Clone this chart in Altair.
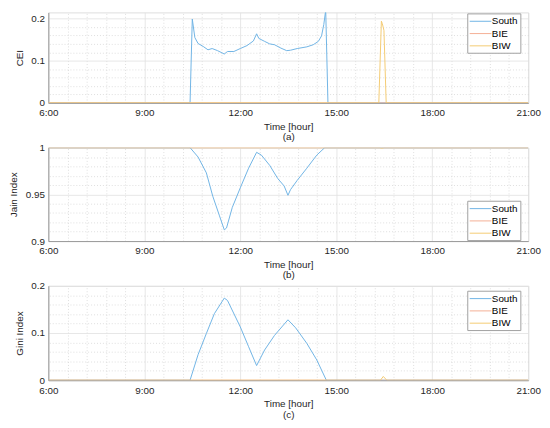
import altair as alt
import pandas as pd

series_names = ["South", "BIE", "BIW"]
series_colors = ["#6FB4E4", "#F4AE95", "#F4CB72"]

x_ticks = [6, 9, 12, 15, 18, 21]

# (a) CEI
cei_south_t = [6.0, 10.43, 10.50, 10.58, 10.68, 10.84, 10.99, 11.12, 11.29, 11.50, 11.60, 11.80,
               12.00, 12.21, 12.41, 12.51, 12.58, 12.76, 12.92, 13.07, 13.27, 13.45, 13.57, 13.78,
               14.08, 14.28, 14.44, 14.54, 14.61, 14.67, 14.74, 21.0]
cei_south_v = [0, 0, 0.199, 0.155, 0.141, 0.134, 0.126, 0.129, 0.124, 0.116, 0.122, 0.122,
               0.129, 0.136, 0.147, 0.164, 0.153, 0.146, 0.140, 0.138, 0.130, 0.124, 0.125, 0.129,
               0.133, 0.138, 0.146, 0.159, 0.186, 0.220, 0, 0]
cei_bie_t = [6.0, 16.35, 16.50, 21.0]
cei_bie_v = [0, 0, 0, 0]
cei_biw_t = [6.0, 16.33, 16.41, 16.44, 16.49, 16.56, 21.0]
cei_biw_v = [0, 0, 0.194, 0.188, 0.172, 0, 0]

# (b) Jain index
jain_south_t = [6.0, 10.43, 10.68, 10.94, 11.14, 11.35, 11.50, 11.57, 11.75, 12.00, 12.26, 12.51,
                12.66, 12.92, 13.17, 13.37, 13.49, 13.57, 13.78, 14.08, 14.39, 14.64, 21.0]
jain_south_v = [1, 1, 0.990, 0.973, 0.948, 0.927, 0.912, 0.914, 0.936, 0.957, 0.978, 0.995,
                0.992, 0.981, 0.967, 0.959, 0.949, 0.955, 0.965, 0.978, 0.992, 1.0, 1.0]
jain_bie_t = [6.0, 21.0]
jain_bie_v = [1, 1]
jain_biw_t = [6.0, 16.35, 16.42, 16.50, 21.0]
jain_biw_v = [1, 1, 0.9995, 1, 1]

# (c) Gini index
gini_south_t = [6.0, 10.43, 10.68, 10.94, 11.19, 11.50, 11.60, 12.00, 12.26, 12.51, 12.76, 13.07,
                13.49, 13.73, 14.08, 14.39, 14.69, 21.0]
gini_south_v = [0, 0, 0.054, 0.099, 0.141, 0.174, 0.169, 0.113, 0.071, 0.031, 0.064, 0.095,
                0.128, 0.111, 0.078, 0.043, 0, 0]
gini_bie_t = [6.0, 21.0]
gini_bie_v = [0, 0]
gini_biw_t = [6.0, 16.38, 16.47, 16.58, 21.0]
gini_biw_v = [0, 0, 0.008, 0, 0]

FONT = "Liberation Sans"
TXT = "#262626"
FS = 10
PLOT_W = 488


def frame(parts):
    rows = []
    for name, ts, vs in parts:
        for t, v in zip(ts, vs):
            rows.append({"t": t, "v": v, "series": name})
    return pd.DataFrame(rows)


minor_x = [round(6 + 0.6 * i, 2) for i in range(26) if i % 5 != 0]


def panel(df, ydom, yticks, yminor, ytitle, sub, leg_y, height):
    xs = alt.Scale(domain=[6, 21], nice=False, zero=False)
    ys = alt.Scale(domain=ydom, nice=False, zero=False)
    grid_layer = alt.Chart(df).mark_point(opacity=0, size=0, strokeWidth=0, clip=True).encode(
        x=alt.X("t:Q", scale=xs, axis=alt.Axis(
            orient="top", values=minor_x, labels=False, ticks=False, domain=False,
            title=None, grid=True, gridColor="#D6D6D6", gridDash=[1, 2], gridWidth=0.8,
            minExtent=0, maxExtent=0, offset=0)),
        y=alt.Y("v:Q", scale=ys, axis=alt.Axis(
            orient="right", values=yminor, labels=False, ticks=False, domain=False,
            title=None, grid=True, gridColor="#D6D6D6", gridDash=[1, 2], gridWidth=0.8,
            minExtent=0, maxExtent=0, offset=0)),
    )
    lines = alt.Chart(df).mark_line(strokeWidth=1, clip=True).encode(
        x=alt.X("t:Q", scale=xs, axis=alt.Axis(
            orient="bottom", values=x_ticks, labelExpr="datum.value + ':00'",
            title=["Time [hour]", sub], grid=True, gridColor="#E0E0E0", gridWidth=0.8,
            ticks=False, domain=True, domainColor="#9A9A9A", domainWidth=1,
            labelFlush=False, labelOverlap=False, labelPadding=5,
            labelFont=FONT, labelFontSize=FS, labelColor=TXT,
            titleFont=FONT, titleFontSize=FS, titleFontWeight="normal", titleColor=TXT,
            titlePadding=4, titleLineHeight=10.5)),
        y=alt.Y("v:Q", scale=ys, axis=alt.Axis(
            values=yticks, format="~g", title=ytitle, grid=True, gridColor="#E0E0E0",
            gridWidth=0.8, ticks=False, domain=True, domainColor="#9A9A9A", domainWidth=1,
            labelPadding=4, labelFont=FONT, labelFontSize=FS, labelColor=TXT,
            titleFont=FONT, titleFontSize=FS, titleFontWeight="normal", titleColor=TXT,
            titlePadding=6.5)),
        color=alt.Color("series:N", scale=alt.Scale(domain=series_names, range=series_colors),
                        legend=alt.Legend(
                            orient="none", legendX=426, legendY=leg_y, title=None,
                            symbolType="M-1,0H3", symbolSize=121, symbolStrokeWidth=1,
                            symbolFillColor="transparent",
                            strokeColor="#A0A0A0", fillColor="white", padding=2,
                            labelFont=FONT, labelFontSize=FS, labelColor="black",
                            rowPadding=1.5, labelOffset=11)),
    )
    return alt.layer(grid_layer, lines).resolve_axis(
        x="independent", y="independent").properties(width=PLOT_W, height=height)


df_a = frame([("South", cei_south_t, cei_south_v), ("BIE", cei_bie_t, cei_bie_v),
              ("BIW", cei_biw_t, cei_biw_v)])
df_b = frame([("South", jain_south_t, jain_south_v), ("BIE", jain_bie_t, jain_bie_v),
              ("BIW", jain_biw_t, jain_biw_v)])
df_c = frame([("South", gini_south_t, gini_south_v), ("BIE", gini_bie_t, gini_bie_v),
              ("BIW", gini_biw_t, gini_biw_v)])

pa = panel(df_a, [0, 0.2147], [0, 0.1, 0.2],
           [0.02, 0.04, 0.06, 0.08, 0.12, 0.14, 0.16, 0.18], "CEI", "(a)", 1, 92)
pb = panel(df_b, [0.9, 1.0], [0.9, 0.95, 1.0],
           [0.91, 0.92, 0.93, 0.94, 0.96, 0.97, 0.98, 0.99], "Jain Index", "(b)", 54, 95)
pc = panel(df_c, [0, 0.2], [0, 0.1, 0.2],
           [0.02, 0.04, 0.06, 0.08, 0.12, 0.14, 0.16, 0.18], "Gini Index", "(c)", 5, 96)

chart = alt.vconcat(pa, pb, pc, spacing=45.5, bounds="flush").resolve_scale(
    color="independent").resolve_legend(color="independent").properties(
    padding={"left": 0, "top": 0, "right": 0, "bottom": 0}
).configure_view(stroke=None).configure(background="white")

chart.save("out.html", embed_options={"renderer": "svg", "actions": False})
